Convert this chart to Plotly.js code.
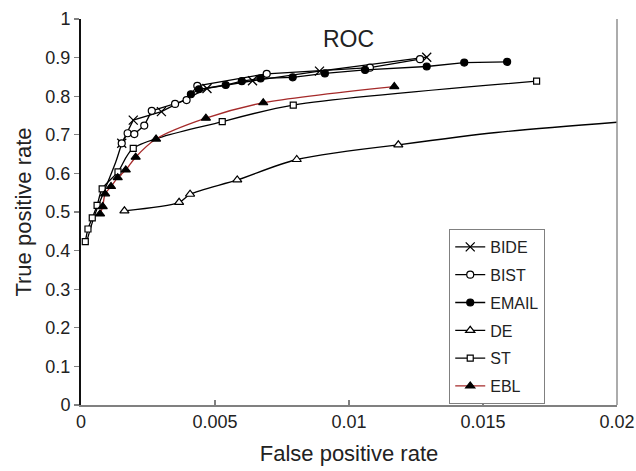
<!DOCTYPE html>
<html>
<head>
<meta charset="utf-8">
<script src="https://cdn.plot.ly/plotly-3.0.1.min.js"></script>
<style>html,body{margin:0;padding:0;background:#fff;}#chart{width:636px;height:471px;}</style>
</head>
<body>
<div id="chart"></div>
<script>
// ---- data ----
const bideX = [0.00152, 0.00195, 0.0030, 0.0047, 0.0064, 0.0089, 0.0129];
const bideY = [0.678, 0.738, 0.760, 0.820, 0.840, 0.865, 0.901];

const bistX = [0.00152, 0.00174, 0.00199, 0.00236, 0.00264, 0.00351, 0.00394, 0.00434, 0.00693, 0.01078, 0.01265];
const bistY = [0.678, 0.704, 0.702, 0.724, 0.762, 0.780, 0.790, 0.827, 0.858, 0.874, 0.896];
const bistTailX = [0.0002, 0.0005, 0.0009, 0.0013, 0.00152];
const bistTailY = [0.42, 0.49, 0.56, 0.63, 0.678];

const emailX = [0.0041, 0.0044, 0.0054, 0.0060, 0.0067, 0.0079, 0.0091, 0.0106, 0.0129, 0.0143, 0.0159];
const emailY = [0.805, 0.818, 0.829, 0.839, 0.846, 0.849, 0.859, 0.868, 0.877, 0.887, 0.889];

const deX = [0.00162, 0.00366, 0.00407, 0.00583, 0.00805, 0.01184];
const deY = [0.503, 0.525, 0.546, 0.583, 0.636, 0.674];
const deTailX = [0.01184, 0.0155, 0.0201];
const deTailY = [0.674, 0.706, 0.733];

const stX = [0.00016, 0.00026, 0.00042, 0.0006, 0.00079, 0.00138, 0.00195, 0.00527, 0.00792, 0.0170];
const stY = [0.423, 0.456, 0.485, 0.517, 0.56, 0.604, 0.665, 0.734, 0.777, 0.839];

const eblX = [0.00071, 0.00081, 0.0009, 0.00112, 0.00137, 0.00167, 0.00204, 0.0028, 0.00466, 0.0068, 0.01169];
const eblY = [0.495, 0.514, 0.547, 0.566, 0.589, 0.609, 0.642, 0.689, 0.743, 0.783, 0.825];

const xTicks = [0, 0.005, 0.01, 0.015, 0.02];
const xTickText = ['0', '0.005', '0.01', '0.015', '0.02'];
const yTicks = [0, 0.1, 0.2, 0.3, 0.4, 0.5, 0.6, 0.7, 0.8, 0.9, 1];
const yTickText = ['0', '0.1', '0.2', '0.3', '0.4', '0.5', '0.6', '0.7', '0.8', '0.9', '1'];

const FONT = 'Liberation Sans, Arial, sans-serif';
const black = '#000';
const red = '#a52a2a';

function tr(name, x, y, sym, fill, size, lineColor, shape, group) {
  return {
    type: 'scatter', mode: 'lines+markers', name: name, x: x, y: y,
    legendgroup: group,
    line: {color: lineColor, width: 1.3, shape: shape, smoothing: 0.8},
    marker: {symbol: sym, size: size, color: fill, line: {color: black, width: 1.2}},
    cliponaxis: false
  };
}
function tail(x, y, lineColor, shape, group) {
  return {
    type: 'scatter', mode: 'lines', x: x, y: y, showlegend: false, legendgroup: group,
    line: {color: lineColor, width: 1.3, shape: shape, smoothing: 0.8}, hoverinfo: 'skip'
  };
}

const traces = [
  tail(bistTailX, bistTailY, black, 'spline', 'bist'),
  tail(deTailX, deTailY, black, 'spline', 'de'),
  tr('BIDE', bideX, bideY, 'x-thin', black, 9, black, 'linear', 'bide'),
  tr('BIST', bistX, bistY, 'circle', '#fff', 7, black, 'linear', 'bist'),
  tr('EMAIL', emailX, emailY, 'circle', black, 7, black, 'linear', 'email'),
  tr('DE', deX, deY, 'triangle-up', '#fff', 8, black, 'spline', 'de'),
  tr('ST', stX, stY, 'square', '#fff', 6, black, 'spline', 'st'),
  tr('EBL', eblX, eblY, 'triangle-up', black, 8, red, 'spline', 'ebl')
];
traces[2].marker.line.width = 1.3;

const layout = {
  width: 636, height: 471,
  margin: {l: 81, r: 19, t: 19, b: 66},
  paper_bgcolor: '#fff', plot_bgcolor: '#fff',
  font: {family: FONT, color: '#222', size: 18},
  showlegend: true,
  title: {text: 'ROC', font: {family: FONT, size: 23, color: '#222'},
          x: 0.548, xanchor: 'center', xref: 'container', y: 0.918, yanchor: 'middle', yref: 'container'},
  xaxis: {
    range: [0, 0.02], tickvals: xTicks, ticktext: xTickText,
    showgrid: false, zeroline: false, showline: true, linecolor: '#808080', linewidth: 1.5,
    ticks: 'inside', ticklen: 5, tickcolor: '#808080', tickwidth: 1.2,
    tickfont: {family: FONT, size: 18, color: '#222'},
    title: {text: 'False positive rate', font: {family: FONT, size: 22, color: '#222'}, standoff: 14}
  },
  yaxis: {
    range: [0, 1], tickvals: yTicks, ticktext: yTickText,
    showgrid: false, zeroline: false, showline: true, linecolor: '#111', linewidth: 2,
    ticks: 'outside', ticklen: 5, tickcolor: '#808080', tickwidth: 1.2,
    tickfont: {family: FONT, size: 18, color: '#222'},
    title: {text: 'True positive rate', font: {family: FONT, size: 22, color: '#222'}, standoff: 8}
  },
  legend: {
    x: 0.687, y: 0.456, xanchor: 'left', yanchor: 'top',
    bordercolor: '#808080', borderwidth: 1, bgcolor: '#fff',
    font: {family: FONT, size: 16, color: '#222'},
    traceorder: 'grouped', tracegroupgap: 4, itemwidth: 30
  },
  shapes: [
    {type: 'line', xref: 'paper', yref: 'paper', x0: 1, x1: 1, y0: 0, y1: 1,
     line: {color: '#909090', width: 1.5}}
  ]
};

Plotly.newPlot('chart', traces, layout, {displayModeBar: false, staticPlot: true});
</script>
</body>
</html>
